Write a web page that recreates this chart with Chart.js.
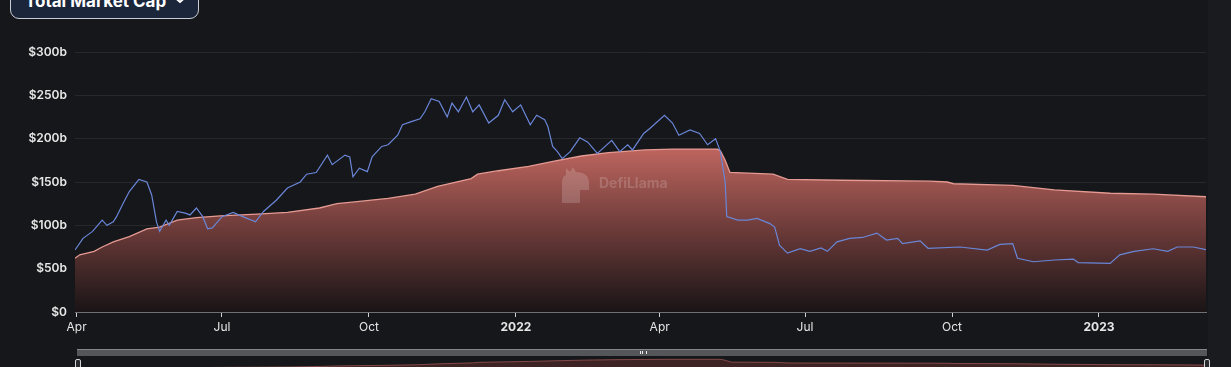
<!DOCTYPE html>
<html>
<head>
<meta charset="utf-8">
<script src="https://cdn.jsdelivr.net/npm/chart.js@4.4.1/dist/chart.umd.min.js"></script>
<style>
  html, body { margin: 0; padding: 0; background: #16171a; overflow: hidden; }
  body { width: 1231px; height: 367px; position: relative; font-family: Inter, "Noto Sans", sans-serif; }
  #mainWrap { position: absolute; left: 0; top: 0; width: 1231px; height: 345px; }
  #previewWrap { position: absolute; left: 77px; top: 357px; width: 1130px; height: 22px; }
  .side-strip { position: absolute; left: 1208px; top: 0; width: 23px; height: 367px; background: #1a1b1e; }
  .mcap-btn {
    position: absolute; left: 10px; top: -18px; width: 189px; height: 37px;
    border: 1px solid #c9ccd3; border-radius: 9px; background: #1b263b;
    color: #fff; font-weight: 700; font-size: 17px; box-sizing: border-box;
    display: flex; align-items: center; padding-left: 14px;
  }
  .mcap-btn svg { position: absolute; left: 163px; top: 13px; }
  .slider-bar { position: absolute; left: 77px; top: 349px; width: 1130px; height: 7px;
    background: #55565a; border-top: 1px solid #85868a; box-sizing: border-box; }
  .grip { position: absolute; left: 640px; top: 351px; width: 5px; height: 3px;
    border-left: 1px solid #eee; border-right: 1px solid #eee; }
  .grip::after { content: ""; position: absolute; left: 1px; top: 0; width: 1px; height: 3px; background: #eee; }
  .handle { position: absolute; top: 359px; width: 4px; height: 14px; border: 1px solid #d5d5d5;
    border-radius: 2px; background: #2a2b2f; }
</style>
</head>
<body>
<div class="side-strip"></div>
<div class="mcap-btn">Total Market Cap
  <svg width="12" height="8" viewBox="0 0 12 8"><path d="M1 1.5 L6 6 L11 1.5" stroke="#fff" stroke-width="2" fill="none"/></svg>
</div>
<div id="mainWrap"><canvas id="mcapChart"></canvas></div>
<div class="slider-bar"></div>
<div class="grip"></div>
<div id="previewWrap"><canvas id="previewChart"></canvas></div>
<div class="handle" style="left:75px"></div>
<div class="handle" style="left:1204px"></div>

<script>
// Stablecoin total market cap ($b), red area
const mcapDates = [
  "2021-03-31","2021-04-03","2021-04-12","2021-04-17","2021-04-24","2021-05-04","2021-05-15","2021-05-23",
  "2021-06-03","2021-06-15","2021-06-30","2021-07-23","2021-08-11","2021-08-31","2021-09-11","2021-09-22",
  "2021-10-13","2021-10-30","2021-11-13","2021-12-04","2021-12-08","2021-12-21","2022-01-09","2022-01-25",
  "2022-02-11","2022-02-28","2022-03-23","2022-04-09","2022-05-07","2022-05-09","2022-05-12","2022-05-15",
  "2022-06-11","2022-06-20","2022-07-23","2022-09-17","2022-09-28","2022-10-02","2022-11-08","2022-12-04",
  "2023-01-08","2023-02-04","2023-03-09"
];
const mcapValues = [
  62, 66, 70, 75, 81, 87, 96, 98,
  106, 109, 111, 113, 115, 120, 125, 127,
  131, 136, 145, 154, 159, 163, 168, 174,
  180, 184, 187, 188, 188, 186, 175, 161,
  159, 153, 152, 151, 150, 148, 146, 141,
  137, 136, 133
];

// DeFi TVL ($b), blue line
const tvlDates = [
  "2021-03-31","2021-04-05","2021-04-08","2021-04-11","2021-04-17","2021-04-20","2021-04-24","2021-04-26",
  "2021-04-30","2021-05-04","2021-05-10","2021-05-15","2021-05-18","2021-05-21","2021-05-23","2021-05-27",
  "2021-05-29","2021-06-03","2021-06-08","2021-06-11","2021-06-15","2021-06-19","2021-06-22","2021-06-25",
  "2021-07-01","2021-07-08","2021-07-14","2021-07-22","2021-07-27","2021-08-04","2021-08-11","2021-08-19",
  "2021-08-23","2021-08-29","2021-09-05","2021-09-08","2021-09-16","2021-09-19","2021-09-21","2021-09-25",
  "2021-09-30","2021-10-03","2021-10-09","2021-10-13","2021-10-19","2021-10-22","2021-10-28","2021-11-02",
  "2021-11-05","2021-11-09","2021-11-14","2021-11-19","2021-11-22","2021-11-26","2021-12-01","2021-12-05",
  "2021-12-09","2021-12-15","2021-12-21","2021-12-25","2021-12-30","2022-01-04","2022-01-10","2022-01-14",
  "2022-01-19","2022-01-21","2022-01-24","2022-01-27","2022-01-30","2022-02-04","2022-02-10","2022-02-15",
  "2022-02-21","2022-03-02","2022-03-07","2022-03-12","2022-03-15","2022-03-22","2022-03-26","2022-04-04",
  "2022-04-09","2022-04-13","2022-04-20","2022-04-26","2022-05-01","2022-05-06","2022-05-09","2022-05-12",
  "2022-05-13","2022-05-20","2022-05-26","2022-06-01","2022-06-09","2022-06-12","2022-06-15","2022-06-20",
  "2022-06-28","2022-07-04","2022-07-11","2022-07-15","2022-07-21","2022-07-29","2022-08-06","2022-08-15",
  "2022-08-21","2022-08-28","2022-08-31","2022-09-11","2022-09-16","2022-10-06","2022-10-23","2022-10-31",
  "2022-11-08","2022-11-11","2022-11-21","2022-12-04","2022-12-16","2022-12-19","2023-01-08","2023-01-14",
  "2023-01-23","2023-02-04","2023-02-13","2023-02-19","2023-03-01","2023-03-09"
];
const tvlValues = [
  71.5, 85, 89, 93, 106, 100, 104, 110,
  125, 139, 153, 150, 135, 104, 93, 106,
  100, 116, 114, 112, 120, 110, 96, 97,
  110, 115, 110, 104, 116, 129, 143, 150,
  159, 161, 181, 170, 181, 179, 156, 166,
  162, 179, 191, 193, 204, 216, 220, 223,
  231, 246, 243, 225, 241, 231, 248, 231,
  239, 218, 227, 245, 231, 239, 216, 227,
  222, 214, 191, 185, 177, 185, 201, 196,
  183, 198, 185, 193, 187, 206, 212, 227,
  218, 204, 210, 206, 193, 200, 185, 150,
  110, 106, 106, 108, 102, 98, 77, 68,
  73, 70, 74, 70, 81, 85, 86, 91,
  83, 85, 79, 82, 73.5, 75, 71.5, 78,
  79, 62, 58, 60, 61, 57, 56, 66,
  70, 73, 70, 75, 75, 72
];

// axis ticks
const xTickDates = ["2021-04-01","2021-07-01","2021-10-01","2022-01-01","2022-04-01","2022-07-01","2022-10-01","2023-01-01"];
const xTickLabels = ["Apr","Jul","Oct","2022","Apr","Jul","Oct","2023"];
const yTickValues = [0, 50, 100, 150, 200, 250, 300];
const xStartDate = "2021-03-31";
const xEndDate = "2023-03-09";

const baseTime = Date.UTC(2021, 3, 1);
const dayOf = (s) => Math.round((Date.parse(s) - baseTime) / 864e5);

const mcapPoints = mcapDates.map((d, i) => ({ x: dayOf(d), y: mcapValues[i] }));
const tvlPoints = tvlDates.map((d, i) => ({ x: dayOf(d), y: tvlValues[i] }));
const xTickDays = xTickDates.map(dayOf);

// red gradient, from top of the area down to the axis
function mcapFill(ctx) {
  const chart = ctx.chart;
  const area = chart.chartArea;
  if (!area) return "rgba(180,95,90,0.8)";
  const top = chart.scales.y.getPixelForValue(Math.max(...mcapValues));
  const g = chart.ctx.createLinearGradient(0, top, 0, area.bottom);
  g.addColorStop(0, "rgba(200,106,99,0.94)");
  g.addColorStop(0.5, "rgba(112,61,59,0.94)");
  g.addColorStop(1, "rgba(26,20,22,0.94)");
  return g;
}

// DefiLlama watermark
const watermark = {
  id: "watermark",
  afterDatasetsDraw(chart) {
    const c = chart.ctx;
    c.save();
    c.fillStyle = "rgba(255,255,255,0.17)";
    // llama head
    c.beginPath();
    c.moveTo(562, 203);
    c.lineTo(562, 183);
    c.quadraticCurveTo(562, 176, 566, 175);
    c.lineTo(566, 168);
    c.lineTo(570, 172);
    c.lineTo(573, 167);
    c.lineTo(576, 172);
    c.quadraticCurveTo(588, 172, 589, 182);
    c.lineTo(589, 190);
    c.lineTo(580, 190);
    c.lineTo(580, 203);
    c.closePath();
    c.fill();
    c.font = "bold 14px Inter, 'Noto Sans', sans-serif";
    c.textBaseline = "middle";
    c.fillText("DefiLlama", 599, 184);
    c.restore();
  }
};

new Chart(document.getElementById("mcapChart"), {
  type: "line",
  data: {
    datasets: [
      {
        label: "DeFi TVL",
        data: tvlPoints,
        borderColor: "#6a86d8",
        borderWidth: 1.2,
        pointRadius: 0,
        fill: false,
        tension: 0,
        order: 0
      },
      {
        label: "Total Market Cap",
        data: mcapPoints,
        borderColor: "#e59a92",
        borderWidth: 1.3,
        backgroundColor: mcapFill,
        pointRadius: 0,
        fill: "origin",
        tension: 0,
        order: 1
      }
    ]
  },
  options: {
    responsive: true,
    maintainAspectRatio: false,
    animation: false,
    layout: { padding: { top: 52, right: 25, bottom: 0, left: 0 } },
    plugins: { legend: { display: false }, tooltip: { enabled: false } },
    scales: {
      x: {
        type: "linear",
        min: dayOf(xStartDate),
        max: dayOf(xEndDate),
        afterFit: (s) => { s.height = 33; },
        afterBuildTicks: (s) => { s.ticks = xTickDays.map(v => ({ value: v })); },
        grid: { display: true, drawOnChartArea: false, drawTicks: true, tickLength: 5, tickColor: "#d0d0d0" },
        border: { display: true, color: "#6e7076", width: 1 },
        ticks: {
          color: "#e6e6e6",
          padding: 3,
          maxRotation: 0,
          autoSkip: false,
          font: (ctx) => ({
            family: "Inter, 'Noto Sans', sans-serif",
            size: 12,
            weight: ctx.tick && xTickLabels[xTickDays.indexOf(ctx.tick.value)].startsWith("20") ? "700" : "400"
          }),
          callback: (v) => xTickLabels[xTickDays.indexOf(v)]
        }
      },
      y: {
        min: 0,
        max: 300,
        afterFit: (s) => { s.width = 75; },
        afterBuildTicks: (s) => { s.ticks = yTickValues.map(v => ({ value: v })); },
        grid: { color: "rgba(255,255,255,0.075)", drawTicks: false },
        border: { display: false },
        ticks: {
          color: "#e8e8e8",
          padding: 8,
          font: { family: "Inter, 'Noto Sans', sans-serif", size: 12, weight: "600" },
          callback: (v) => v === 0 ? "$0" : `$${v}b`
        }
      }
    }
  },
  plugins: [watermark]
});

// data shadow in the zoom slider
new Chart(document.getElementById("previewChart"), {
  type: "line",
  data: {
    datasets: [{
      data: mcapPoints,
      borderColor: "rgba(170,92,88,0.7)",
      borderWidth: 1,
      backgroundColor: "rgba(110,52,50,0.45)",
      pointRadius: 0,
      fill: "origin"
    }]
  },
  options: {
    responsive: true,
    maintainAspectRatio: false,
    animation: false,
    layout: { padding: 0 },
    plugins: { legend: { display: false }, tooltip: { enabled: false } },
    scales: {
      x: { type: "linear", display: false, min: dayOf(xStartDate), max: dayOf(xEndDate) },
      y: { display: false, min: 0, max: 210 }
    }
  }
});
</script>
</body>
</html>
